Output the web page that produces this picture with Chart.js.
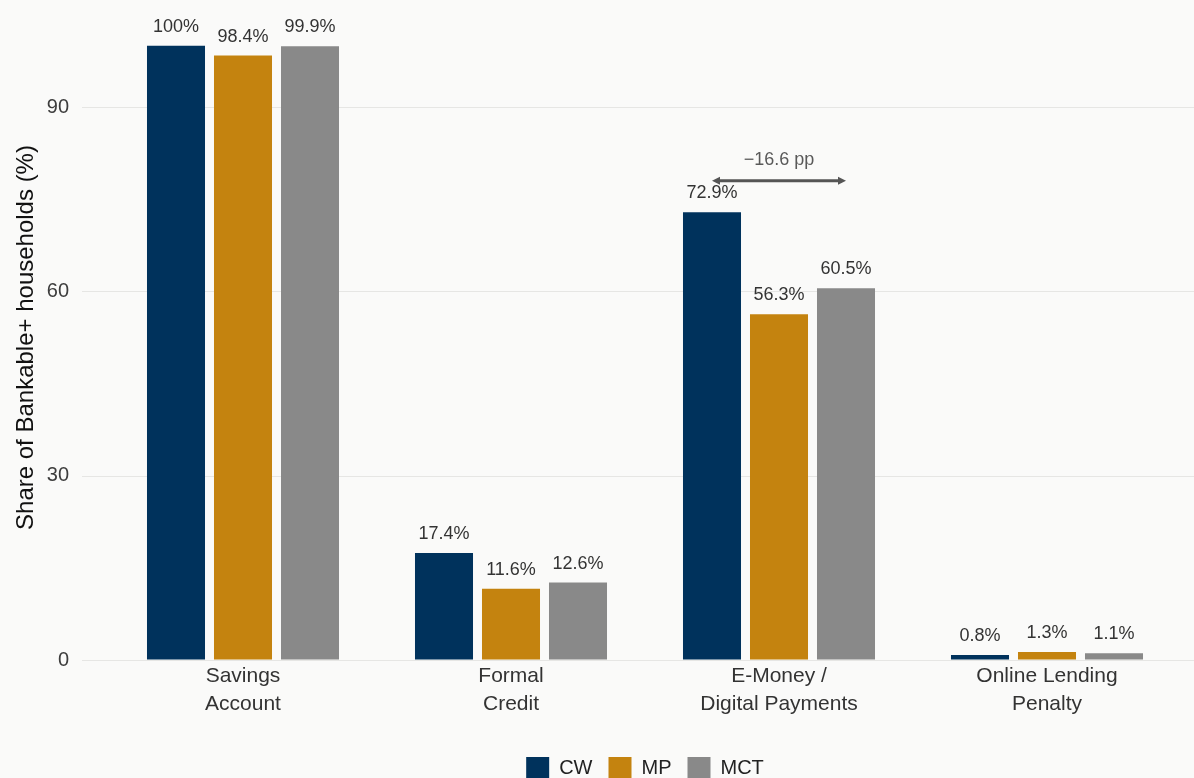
<!DOCTYPE html>
<html>
<head>
<meta charset="utf-8">
<title>Bankable+ households</title>
<script src="https://cdn.jsdelivr.net/npm/chart.js@4/dist/chart.umd.min.js"></script>
<style>
  html, body { margin: 0; padding: 0; background: #fafaf9; overflow: hidden; }
  #wrap { width: 1194px; height: 790px; }
</style>
</head>
<body>
<div id="wrap"><canvas id="chart" width="1194" height="790"></canvas></div>
<script>
const categories = [
  ['Savings', 'Account'],
  ['Formal', 'Credit'],
  ['E-Money /', 'Digital Payments'],
  ['Online Lending', 'Penalty']
];
const cwValues = [100, 17.4, 72.9, 0.8];
const mpValues = [98.4, 11.6, 56.3, 1.3];
const mctValues = [99.9, 12.6, 60.5, 1.1];
const yTicks = [0, 30, 60, 90];

const NAVY = '#00325c';
const GOLD = '#c4830f';
const GREY = '#898989';
const FONT = '"Liberation Sans", Arial, Helvetica, sans-serif';

// gap between CW and MP on the e-money group, shown with a bracket arrow
const gapCategory = 2;
const gapValue = +(mpValues[gapCategory] - cwValues[gapCategory]).toFixed(1);
const gapArrowAt = 78;

// light horizontal rules that run past the plot edges
const gridLines = {
  id: 'gridLines',
  beforeDatasetsDraw(chart) {
    const { ctx, scales: { y } } = chart;
    ctx.save();
    ctx.strokeStyle = '#e6e6e4';
    ctx.lineWidth = 1;
    yTicks.forEach(v => {
      const py = Math.round(y.getPixelForValue(v)) + 0.5;
      ctx.beginPath();
      ctx.moveTo(82, py);
      ctx.lineTo(chart.width, py);
      ctx.stroke();
    });
    ctx.restore();
  }
};

// value labels above each bar
const barLabels = {
  id: 'barLabels',
  afterDatasetsDraw(chart) {
    const { ctx } = chart;
    ctx.save();
    ctx.font = '18px ' + FONT;
    ctx.fillStyle = '#333333';
    ctx.textAlign = 'center';
    ctx.textBaseline = 'alphabetic';
    chart.data.datasets.forEach((ds, i) => {
      chart.getDatasetMeta(i).data.forEach((bar, j) => {
        ctx.fillText(ds.data[j] + '%', bar.x, bar.y - 14);
      });
    });
    ctx.restore();
  }
};

// double-headed arrow with the pp difference
const gapArrow = {
  id: 'gapArrow',
  afterDatasetsDraw(chart) {
    const { ctx, scales: { y } } = chart;
    const x1 = chart.getDatasetMeta(0).data[gapCategory].x;
    const x2 = chart.getDatasetMeta(2).data[gapCategory].x;
    const py = y.getPixelForValue(gapArrowAt);
    ctx.save();
    ctx.strokeStyle = '#555555';
    ctx.fillStyle = '#555555';
    ctx.lineWidth = 3;
    ctx.beginPath();
    ctx.moveTo(x1 + 4, py);
    ctx.lineTo(x2 - 4, py);
    ctx.stroke();
    [[x1, 1], [x2, -1]].forEach(([x, d]) => {
      ctx.beginPath();
      ctx.moveTo(x, py);
      ctx.lineTo(x + 8 * d, py - 4);
      ctx.lineTo(x + 8 * d, py + 4);
      ctx.closePath();
      ctx.fill();
    });
    ctx.font = '18px ' + FONT;
    ctx.fillStyle = '#595959';
    ctx.textAlign = 'center';
    ctx.textBaseline = 'alphabetic';
    ctx.fillText('\u2212' + Math.abs(gapValue) + ' pp', (x1 + x2) / 2, py - 16);
    ctx.restore();
  }
};

new Chart(document.getElementById('chart'), {
  type: 'bar',
  data: {
    labels: categories,
    datasets: [
      { label: 'CW', data: cwValues, backgroundColor: NAVY },
      { label: 'MP', data: mpValues, backgroundColor: GOLD },
      { label: 'MCT', data: mctValues, backgroundColor: GREY }
    ]
  },
  options: {
    responsive: false,
    animation: false,
    layout: { padding: { top: 15, right: 13, left: 0, bottom: 0 } },
    datasets: {
      bar: { categoryPercentage: 0.75, barPercentage: 0.866, borderWidth: 0 }
    },
    scales: {
      x: {
        grid: { display: false, drawTicks: false },
        border: { display: false },
        ticks: {
          color: '#333333',
          font: { family: FONT, size: 21, lineHeight: 1.3 },
          padding: 3,
          maxRotation: 0,
          autoSkip: false
        },
        afterFit(scale) { scale.height = 81; }
      },
      y: {
        min: 0,
        max: 105,
        afterBuildTicks(scale) { scale.ticks = yTicks.map(v => ({ value: v })); },
        // invisible tick marks push the labels left of the plot
        grid: { display: true, drawOnChartArea: false, drawTicks: true, tickLength: 37, color: 'rgba(0,0,0,0)' },
        border: { display: false },
        ticks: {
          color: '#3d3d3d',
          font: { family: FONT, size: 20 },
          padding: 3
        },
        title: {
          display: true,
          text: 'Share of Bankable+ households (%)',
          color: '#111111',
          font: { family: FONT, size: 24 },
          padding: { top: 12, bottom: 0 }
        },
        afterFit(scale) { scale.width = 109; }
      }
    },
    plugins: {
      legend: {
        position: 'bottom',
        fullSize: false,
        labels: {
          boxWidth: 23,
          boxHeight: 23,
          padding: 16,
          color: '#222222',
          font: { family: FONT, size: 20 }
        }
      },
      tooltip: { enabled: false }
    }
  },
  plugins: [gridLines, barLabels, gapArrow]
});
</script>
</body>
</html>
